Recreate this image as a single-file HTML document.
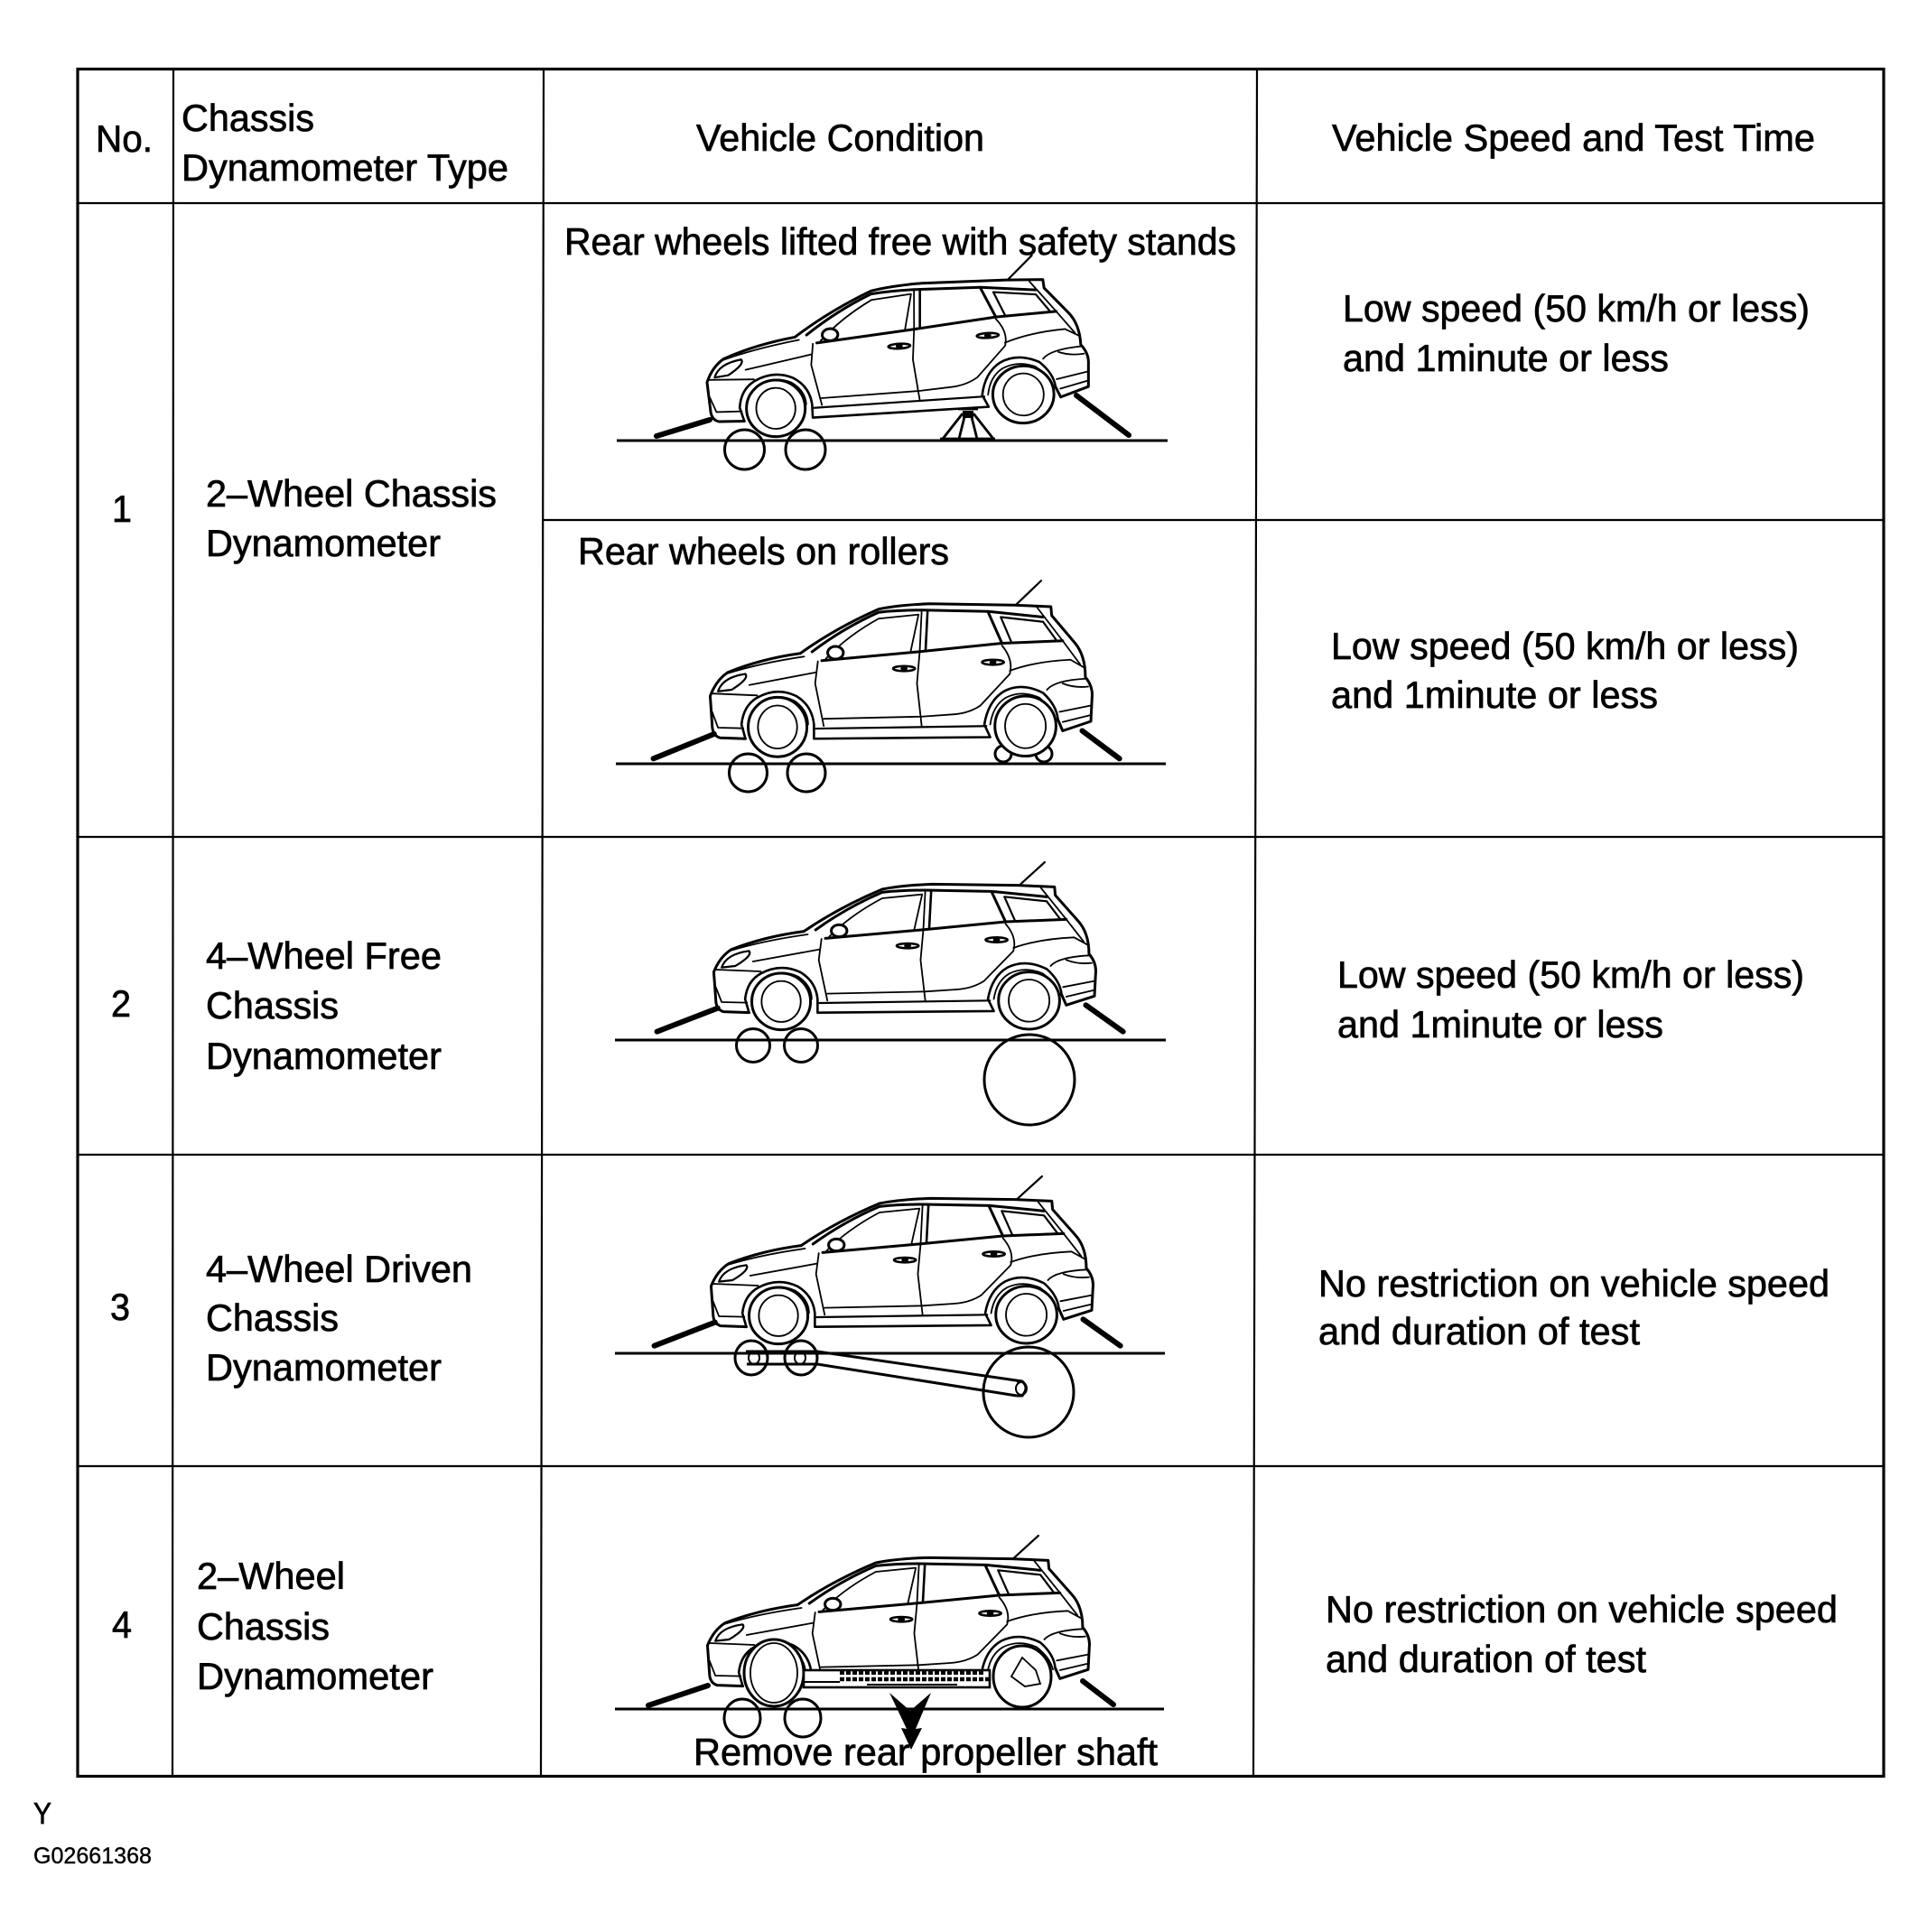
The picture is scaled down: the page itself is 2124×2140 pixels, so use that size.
<!DOCTYPE html>
<html><head><meta charset="utf-8">
<style>
html,body{margin:0;padding:0;background:#fff}
svg{display:block}
text{font-family:"Liberation Sans",Arial,sans-serif;font-size:41.5px;fill:#000;stroke:#000;stroke-width:.7px}
.car path,.car ellipse,.car line{vector-effect:non-scaling-stroke}
</style></head><body>
<svg xmlns="http://www.w3.org/2000/svg" width="2124" height="2140" viewBox="0 0 2124 2140">
<defs>
<g id="body" class="car" fill="none" stroke="#000" stroke-width="1.8" stroke-linejoin="round" stroke-linecap="round">
  <path stroke-width="3" d="M570,245 Q660,165 770,105 Q820,92 900,88 L1115,92 L1210,97 L1212,125 L1270,210 Q1298,250 1298,320 Q1318,350 1315,385 L1312,460 L1240,490 L1228,455"/>
  <path stroke-width="3" d="M570,245 Q470,262 385,305 Q355,330 340,380 L345,470 Q345,505 365,512 L430,515"/>
  <path stroke-width="2.6" d="M430,515 L420,470 Q425,410 460,385 Q510,350 560,380 Q600,410 605,470 L605,515 L1055,510 L1040,470 Q1050,395 1090,365 Q1135,335 1190,370 Q1225,410 1228,455"/>
  <path d="M440,480 Q440,420 475,395 Q515,370 555,395 Q590,425 590,470"/>
  <path d="M1055,470 Q1062,410 1095,385 Q1135,360 1180,385 Q1215,420 1222,460"/>
  <path stroke-width="2.2" d="M610,483 L1045,475"/>
  <path stroke-width="3" d="M600,240 Q680,165 770,115 Q820,108 880,108 L1050,112 L1190,130"/>
  <path stroke-width="1.8" d="M635,262 Q690,190 770,135 L872,122 L852,238"/>
  <path stroke-width="3" d="M625,268 L870,240 L1085,213 L1240,205"/>
  <path stroke-width="2.6" d="M895,112 L890,235"/>
  <path stroke-width="1.8" d="M880,110 L875,240 L868,340 L880,475"/>
  <path stroke-width="3" d="M1050,115 L1085,213"/>
  <path stroke-width="2.2" d="M1082,130 L1190,145 L1225,205 L1110,212 Z"/>
  <path d="M1175,100 L1240,205 L1285,280"/>
  <path d="M615,270 L608,340 L630,475"/>
  <path d="M1085,220 Q1115,265 1105,310 Q1060,370 1030,410 Q1000,435 960,438 L880,445 L630,452"/>
  <path d="M1105,300 Q1170,270 1260,265 L1295,290"/>
  <path d="M1200,360 Q1220,330 1300,325"/>
  <path d="M1232,430 L1312,410 M1240,462 L1312,440"/>
  <path d="M1240,340 Q1270,355 1305,350"/>
  <path stroke-width="2.2" d="M360,365 Q372,320 430,310 Q440,325 395,360 Z"/>
  <path d="M345,372 L460,378 M440,345 L610,305 M385,308 Q470,275 580,255"/>
  <path d="M345,430 L360,480 L425,482"/>
  <ellipse cx="660" cy="243" rx="20" ry="20" stroke-width="3" fill="#fff"/>
  <ellipse cx="835" cy="293" rx="28" ry="8" stroke-width="2.6"/>
  <ellipse cx="835" cy="293" rx="9" ry="8" fill="#000" stroke="none"/>
  <ellipse cx="1062" cy="273" rx="28" ry="8" stroke-width="2.6"/>
  <ellipse cx="1062" cy="273" rx="9" ry="8" fill="#000" stroke="none"/>
  <line x1="1120" y1="92" x2="1185" y2="15" stroke-width="2.2"/>
</g>
<g id="wheels" class="car" fill="#fff" stroke="#000" stroke-width="3">
  <ellipse cx="512" cy="478" rx="75" ry="94"/>
  <ellipse cx="512" cy="478" rx="50" ry="68" stroke-width="1.8"/>
  <ellipse cx="1145" cy="475" rx="78" ry="95"/>
  <ellipse cx="1145" cy="475" rx="52" ry="70" stroke-width="1.8"/>
</g>
<g id="stands" class="car" stroke="#000" stroke-width="6" stroke-linecap="round">
  <line x1="195" y1="578" x2="350" y2="500"/>
  <line x1="1290" y1="490" x2="1385" y2="578"/>
</g>
</defs>

<!-- Table -->
<g stroke="#000" fill="none">
  <rect x="86" y="76.5" width="2000" height="1891" stroke-width="3.2"/>
  <path stroke-width="2.2" d="M192,77 L191,1967 M602,77 L599,1967 M1392,77 L1388,1967"/>
  <path stroke-width="2.2" d="M86,225 H2086 M601,576 H2086 M86,927 H2086 M86,1279 H2086 M86,1624 H2086"/>
</g>

<!-- Row 1a -->
<g fill="none" stroke="#000" stroke-width="3">
  <line x1="683" y1="488" x2="1293" y2="488"/>
  <ellipse cx="824.5" cy="498" rx="22" ry="22"/>
  <ellipse cx="892" cy="498" rx="22" ry="22"/>
  <line x1="727" y1="483" x2="786" y2="465" stroke-width="6" stroke-linecap="round"/>
  <line x1="1192" y1="438" x2="1250" y2="482" stroke-width="6" stroke-linecap="round"/>
  <path stroke-width="2.8" d="M1061,453 H1083 M1066,458 L1044,486 M1078,458 L1100,486 M1069,458 L1062,486 M1075,458 L1082,486 M1041,486 H1102"/>
  <rect x="1066" y="455" width="12" height="8" fill="#000" stroke="none"/>
</g>
<g transform="translate(637,293) rotate(-3 222 157) scale(.4337,.3333)"><use href="#body"/><use href="#wheels"/></g>

<!-- Row 1b -->
<g fill="none" stroke="#000" stroke-width="3">
  <line x1="682" y1="846" x2="1291" y2="846"/>
  <ellipse cx="828.5" cy="856" rx="21" ry="21"/>
  <ellipse cx="893" cy="856" rx="21" ry="21"/>
  <ellipse cx="1111" cy="835" rx="9" ry="9"/>
  <ellipse cx="1156" cy="835" rx="9" ry="9"/>
</g>
<g transform="translate(639,638) scale(.4337,.35)"><use href="#stands"/><use href="#body"/><use href="#wheels"/></g>

<!-- Row 2 -->
<g fill="none" stroke="#000" stroke-width="3">
  <line x1="681" y1="1152" x2="1291" y2="1152"/>
  <ellipse cx="834" cy="1158" rx="18.5" ry="18.5"/>
  <ellipse cx="887" cy="1158" rx="18.5" ry="18.5"/>
  <ellipse cx="1140" cy="1196" rx="50" ry="50"/>
</g>
<g transform="translate(643,950) scale(.4337,.3333)"><use href="#stands"/><use href="#body"/><use href="#wheels"/></g>

<!-- Row 3 -->
<g fill="none" stroke="#000" stroke-width="3">
  <line x1="681" y1="1499" x2="1290" y2="1499"/>
  <ellipse cx="832" cy="1504" rx="18" ry="19"/>
  <ellipse cx="887" cy="1504" rx="18" ry="19"/>
  <ellipse cx="1139" cy="1542" rx="50" ry="50"/>
  <path d="M826,1497 H905 L1132,1530 M827,1511 H905 L1126,1546"/>
  <path d="M1126,1530 H1132 Q1140,1537 1132,1546 H1126"/>
  <ellipse cx="1131" cy="1538" rx="6" ry="7" stroke-width="2"/>
  <ellipse cx="835" cy="1504" rx="6" ry="7" stroke-width="2"/>
  <ellipse cx="886" cy="1504" rx="6" ry="7" stroke-width="2"/>
</g>
<g transform="translate(640,1298) scale(.4337,.3333)"><use href="#stands"/><use href="#body"/><use href="#wheels"/></g>

<!-- Row 4 -->
<g fill="none" stroke="#000" stroke-width="3">
  <line x1="681" y1="1893" x2="1289" y2="1893"/>
  <ellipse cx="822" cy="1903" rx="20" ry="21"/>
  <ellipse cx="889" cy="1903" rx="20" ry="21"/>
  <line x1="718" y1="1889" x2="784" y2="1867" stroke-width="6" stroke-linecap="round"/>
  <line x1="1199" y1="1862" x2="1233" y2="1888" stroke-width="6" stroke-linecap="round"/>
</g>
<g transform="translate(636,1696) scale(.4337,.3333)"><use href="#body"/></g>
<g fill="#fff" stroke="#000" stroke-width="3">
  <ellipse cx="857" cy="1853" rx="33" ry="37"/>
  <ellipse cx="857" cy="1853" rx="26" ry="33" stroke-width="1.8" fill="none"/>
  <ellipse cx="1132" cy="1857" rx="32" ry="34"/>
  <path fill="none" stroke-width="1.8" d="M1120,1857 L1132,1836 L1147,1850 L1152,1865 L1135,1868 Z"/>
</g>
<g fill="none" stroke="#000">
  <rect x="890" y="1850" width="206" height="19" fill="#fff" stroke-width="2.6"/>
  <path stroke-width="4" stroke-dasharray="5 2" d="M930,1853 H1090"/>
  <path stroke-width="4.4" stroke-dasharray="5 2" d="M930,1860 H1095"/>
  <path stroke-width="2" d="M890,1863 H930 M960,1866 H1060"/>
</g>
<path d="M985,1875 L1008,1895 L1031,1875 L1014,1915 L1021,1914 L1009,1938 L998,1914 L1004,1915 Z" fill="#000"/>

<!-- Text -->
<g>
<text x="106" y="168" textLength="63" lengthAdjust="spacingAndGlyphs">No.</text>
<text x="201" y="145" textLength="147" lengthAdjust="spacingAndGlyphs">Chassis</text>
<text x="201" y="200" textLength="362" lengthAdjust="spacingAndGlyphs">Dynamometer Type</text>
<text x="771" y="167" textLength="319" lengthAdjust="spacingAndGlyphs">Vehicle Condition</text>
<text x="1475" y="167" textLength="535" lengthAdjust="spacingAndGlyphs">Vehicle Speed and Test Time</text>

<text x="625" y="282" textLength="744" lengthAdjust="spacingAndGlyphs">Rear wheels lifted free with safety stands</text>
<text x="124" y="578" textLength="22" lengthAdjust="spacingAndGlyphs">1</text>
<text x="228" y="561" textLength="322" lengthAdjust="spacingAndGlyphs">2–Wheel Chassis</text>
<text x="228" y="616" textLength="260" lengthAdjust="spacingAndGlyphs">Dynamometer</text>
<text x="1487" y="356" textLength="517" lengthAdjust="spacingAndGlyphs">Low speed (50 km/h or less)</text>
<text x="1487" y="411" textLength="361" lengthAdjust="spacingAndGlyphs">and 1minute or less</text>

<text x="640" y="625" textLength="411" lengthAdjust="spacingAndGlyphs">Rear wheels on rollers</text>
<text x="1474" y="730" textLength="518" lengthAdjust="spacingAndGlyphs">Low speed (50 km/h or less)</text>
<text x="1474" y="784" textLength="362" lengthAdjust="spacingAndGlyphs">and 1minute or less</text>

<text x="123" y="1126" textLength="22" lengthAdjust="spacingAndGlyphs">2</text>
<text x="228" y="1073" textLength="261" lengthAdjust="spacingAndGlyphs">4–Wheel Free</text>
<text x="228" y="1128" textLength="147" lengthAdjust="spacingAndGlyphs">Chassis</text>
<text x="228" y="1184" textLength="261" lengthAdjust="spacingAndGlyphs">Dynamometer</text>
<text x="1481" y="1094" textLength="517" lengthAdjust="spacingAndGlyphs">Low speed (50 km/h or less)</text>
<text x="1481" y="1149" textLength="361" lengthAdjust="spacingAndGlyphs">and 1minute or less</text>

<text x="122" y="1462" textLength="22" lengthAdjust="spacingAndGlyphs">3</text>
<text x="228" y="1420" textLength="295" lengthAdjust="spacingAndGlyphs">4–Wheel Driven</text>
<text x="228" y="1474" textLength="147" lengthAdjust="spacingAndGlyphs">Chassis</text>
<text x="228" y="1529" textLength="261" lengthAdjust="spacingAndGlyphs">Dynamometer</text>
<text x="1460" y="1436" textLength="566" lengthAdjust="spacingAndGlyphs">No restriction on vehicle speed</text>
<text x="1460" y="1489" textLength="356" lengthAdjust="spacingAndGlyphs">and duration of test</text>

<text x="124" y="1814" textLength="22" lengthAdjust="spacingAndGlyphs">4</text>
<text x="218" y="1760" textLength="164" lengthAdjust="spacingAndGlyphs">2–Wheel</text>
<text x="218" y="1816" textLength="147" lengthAdjust="spacingAndGlyphs">Chassis</text>
<text x="218" y="1871" textLength="262" lengthAdjust="spacingAndGlyphs">Dynamometer</text>
<text x="1468" y="1797" textLength="567" lengthAdjust="spacingAndGlyphs">No restriction on vehicle speed</text>
<text x="1468" y="1852" textLength="355" lengthAdjust="spacingAndGlyphs">and duration of test</text>
<text x="768" y="1955" textLength="514" lengthAdjust="spacingAndGlyphs">Remove rear propeller shaft</text>

<text x="37" y="2020" style="font-size:33px" textLength="20" lengthAdjust="spacingAndGlyphs">Y</text>
<text x="37" y="2064" style="font-size:25px;stroke-width:.4px" textLength="131" lengthAdjust="spacingAndGlyphs">G02661368</text>
</g>
</svg>
</body></html>
